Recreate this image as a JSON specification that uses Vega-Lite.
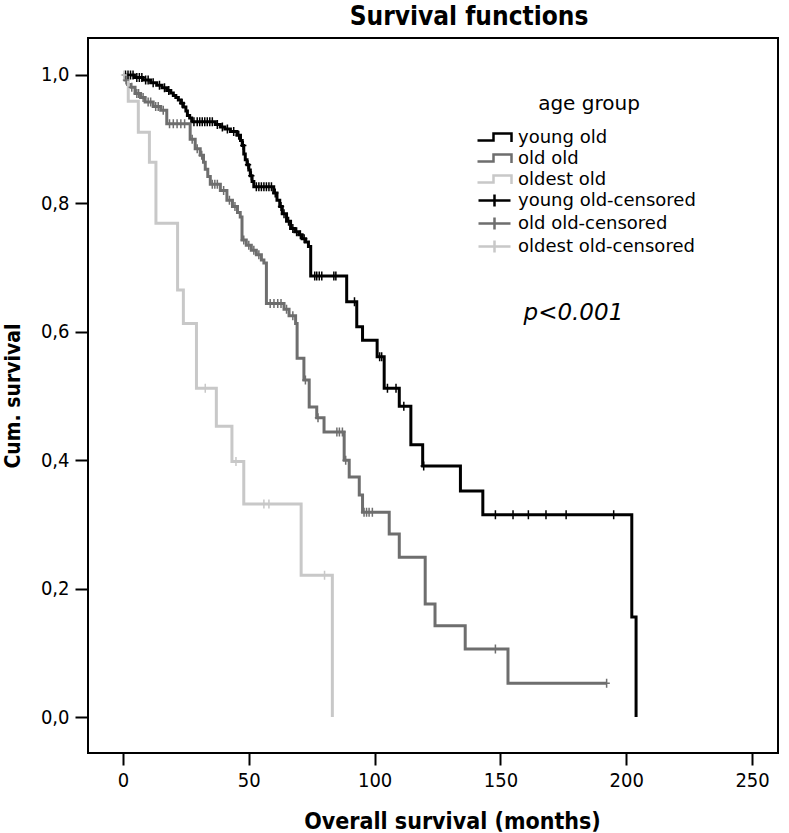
{
  "$schema": "https://vega.github.io/schema/vega-lite/v6.json",
  "width": 690,
  "height": 715,
  "autosize": {"type": "none"},
  "padding": {"left": 88, "top": 38, "right": 11, "bottom": 80},
  "background": "white",
  "config": {
    "view": {"stroke": "black", "strokeWidth": 2},
    "font": "DejaVu Sans Condensed"
  },
  "title": {"text": "Survival functions", "font": "DejaVu Sans Condensed", "fontSize": 26, "fontWeight": "bold", "color": "black", "anchor": "middle", "dx": 36, "offset": 8},
  "datasets": {
    "steps": [
      {"series": "young old", "month": 0, "surv": 1.0},
      {"series": "young old", "month": 4.5, "surv": 0.996},
      {"series": "young old", "month": 8, "surv": 0.992},
      {"series": "young old", "month": 11, "surv": 0.988},
      {"series": "young old", "month": 13.4, "surv": 0.984},
      {"series": "young old", "month": 15.5, "surv": 0.98},
      {"series": "young old", "month": 17.4, "surv": 0.976},
      {"series": "young old", "month": 19, "surv": 0.972},
      {"series": "young old", "month": 20, "surv": 0.968},
      {"series": "young old", "month": 21, "surv": 0.965},
      {"series": "young old", "month": 22, "surv": 0.961},
      {"series": "young old", "month": 23, "surv": 0.956},
      {"series": "young old", "month": 24, "surv": 0.95},
      {"series": "young old", "month": 25, "surv": 0.944},
      {"series": "young old", "month": 25.6, "surv": 0.937},
      {"series": "young old", "month": 26.5, "surv": 0.933},
      {"series": "young old", "month": 27.3, "surv": 0.927},
      {"series": "young old", "month": 36.7, "surv": 0.923},
      {"series": "young old", "month": 38.7, "surv": 0.919},
      {"series": "young old", "month": 40.5, "surv": 0.916},
      {"series": "young old", "month": 42.7, "surv": 0.912},
      {"series": "young old", "month": 45.3, "surv": 0.906},
      {"series": "young old", "month": 46.7, "surv": 0.898},
      {"series": "young old", "month": 47.4, "surv": 0.89},
      {"series": "young old", "month": 48, "surv": 0.877},
      {"series": "young old", "month": 48.6, "surv": 0.868},
      {"series": "young old", "month": 49.3, "surv": 0.86},
      {"series": "young old", "month": 50, "surv": 0.852},
      {"series": "young old", "month": 50.6, "surv": 0.843},
      {"series": "young old", "month": 51.3, "surv": 0.834},
      {"series": "young old", "month": 52, "surv": 0.826},
      {"series": "young old", "month": 59.9, "surv": 0.816},
      {"series": "young old", "month": 61.2, "surv": 0.805},
      {"series": "young old", "month": 62.3, "surv": 0.795},
      {"series": "young old", "month": 63.3, "surv": 0.784},
      {"series": "young old", "month": 65, "surv": 0.772},
      {"series": "young old", "month": 66.6, "surv": 0.761},
      {"series": "young old", "month": 68.3, "surv": 0.756},
      {"series": "young old", "month": 69.9, "surv": 0.751},
      {"series": "young old", "month": 71.2, "surv": 0.745},
      {"series": "young old", "month": 72.6, "surv": 0.74},
      {"series": "young old", "month": 73.7, "surv": 0.733},
      {"series": "young old", "month": 74.6, "surv": 0.687},
      {"series": "young old", "month": 88.9, "surv": 0.647},
      {"series": "young old", "month": 92.9, "surv": 0.608},
      {"series": "young old", "month": 95.2, "surv": 0.587},
      {"series": "young old", "month": 101, "surv": 0.561},
      {"series": "young old", "month": 103.8, "surv": 0.512},
      {"series": "young old", "month": 109.8, "surv": 0.484},
      {"series": "young old", "month": 114.4, "surv": 0.424},
      {"series": "young old", "month": 119.1, "surv": 0.391},
      {"series": "young old", "month": 134.1, "surv": 0.352},
      {"series": "young old", "month": 143, "surv": 0.315},
      {"series": "young old", "month": 202.2, "surv": 0.156},
      {"series": "young old", "month": 203.9, "surv": 0.0},
      {"series": "old old", "month": 0, "surv": 1.0},
      {"series": "old old", "month": 0.8, "surv": 0.992},
      {"series": "old old", "month": 1.8, "surv": 0.985},
      {"series": "old old", "month": 2.8, "surv": 0.981},
      {"series": "old old", "month": 4.8, "surv": 0.971},
      {"series": "old old", "month": 7, "surv": 0.965},
      {"series": "old old", "month": 8.8, "surv": 0.958},
      {"series": "old old", "month": 12, "surv": 0.951},
      {"series": "old old", "month": 15, "surv": 0.945},
      {"series": "old old", "month": 17.4, "surv": 0.924},
      {"series": "old old", "month": 26.7, "surv": 0.9},
      {"series": "old old", "month": 28.7, "surv": 0.885},
      {"series": "old old", "month": 30.7, "surv": 0.875},
      {"series": "old old", "month": 32, "surv": 0.864},
      {"series": "old old", "month": 32.7, "surv": 0.853},
      {"series": "old old", "month": 33.7, "surv": 0.842},
      {"series": "old old", "month": 34.7, "surv": 0.83},
      {"series": "old old", "month": 38.7, "surv": 0.82},
      {"series": "old old", "month": 41.3, "surv": 0.805},
      {"series": "old old", "month": 43.5, "surv": 0.795},
      {"series": "old old", "month": 45.5, "surv": 0.786},
      {"series": "old old", "month": 46.6, "surv": 0.779},
      {"series": "old old", "month": 47.3, "surv": 0.743},
      {"series": "old old", "month": 49, "surv": 0.735},
      {"series": "old old", "month": 51, "surv": 0.727},
      {"series": "old old", "month": 53, "surv": 0.72},
      {"series": "old old", "month": 55, "surv": 0.712},
      {"series": "old old", "month": 56, "surv": 0.707},
      {"series": "old old", "month": 57, "surv": 0.644},
      {"series": "old old", "month": 64, "surv": 0.635},
      {"series": "old old", "month": 66, "surv": 0.625},
      {"series": "old old", "month": 68.6, "surv": 0.613},
      {"series": "old old", "month": 69.2, "surv": 0.559},
      {"series": "old old", "month": 71.9, "surv": 0.525},
      {"series": "old old", "month": 74, "surv": 0.483},
      {"series": "old old", "month": 77, "surv": 0.466},
      {"series": "old old", "month": 79.9, "surv": 0.444},
      {"series": "old old", "month": 87.9, "surv": 0.4},
      {"series": "old old", "month": 89.9, "surv": 0.374},
      {"series": "old old", "month": 93.9, "surv": 0.346},
      {"series": "old old", "month": 95.2, "surv": 0.319},
      {"series": "old old", "month": 105.8, "surv": 0.285},
      {"series": "old old", "month": 109.8, "surv": 0.249},
      {"series": "old old", "month": 120.1, "surv": 0.176},
      {"series": "old old", "month": 124, "surv": 0.142},
      {"series": "old old", "month": 136, "surv": 0.106},
      {"series": "old old", "month": 153, "surv": 0.0525},
      {"series": "old old", "month": 192.2, "surv": 0.0525},
      {"series": "oldest old", "month": 0, "surv": 1.0},
      {"series": "oldest old", "month": 2.1, "surv": 0.959},
      {"series": "oldest old", "month": 6.1, "surv": 0.911},
      {"series": "oldest old", "month": 10.5, "surv": 0.864},
      {"series": "oldest old", "month": 13.1, "surv": 0.769},
      {"series": "oldest old", "month": 21.7, "surv": 0.665},
      {"series": "oldest old", "month": 24, "surv": 0.613},
      {"series": "oldest old", "month": 29.2, "surv": 0.512},
      {"series": "oldest old", "month": 37.1, "surv": 0.453},
      {"series": "oldest old", "month": 43.3, "surv": 0.398},
      {"series": "oldest old", "month": 48, "surv": 0.332},
      {"series": "oldest old", "month": 70.8, "surv": 0.221},
      {"series": "oldest old", "month": 83.2, "surv": 0.0}
    ],
    "censors": [
      {"series": "young old-censored", "month": 1, "surv": 1.0},
      {"series": "young old-censored", "month": 2, "surv": 1.0},
      {"series": "young old-censored", "month": 3, "surv": 1.0},
      {"series": "young old-censored", "month": 4, "surv": 1.0},
      {"series": "young old-censored", "month": 5.5, "surv": 0.996},
      {"series": "young old-censored", "month": 6.5, "surv": 0.996},
      {"series": "young old-censored", "month": 7.5, "surv": 0.996},
      {"series": "young old-censored", "month": 9, "surv": 0.992},
      {"series": "young old-censored", "month": 10, "surv": 0.992},
      {"series": "young old-censored", "month": 12, "surv": 0.988},
      {"series": "young old-censored", "month": 14.5, "surv": 0.984},
      {"series": "young old-censored", "month": 16.5, "surv": 0.98},
      {"series": "young old-censored", "month": 18.2, "surv": 0.976},
      {"series": "young old-censored", "month": 23.5, "surv": 0.956},
      {"series": "young old-censored", "month": 28.2, "surv": 0.927},
      {"series": "young old-censored", "month": 29.5, "surv": 0.927},
      {"series": "young old-censored", "month": 30.5, "surv": 0.927},
      {"series": "young old-censored", "month": 31.5, "surv": 0.927},
      {"series": "young old-censored", "month": 32.5, "surv": 0.927},
      {"series": "young old-censored", "month": 33.5, "surv": 0.927},
      {"series": "young old-censored", "month": 34.5, "surv": 0.927},
      {"series": "young old-censored", "month": 35.5, "surv": 0.927},
      {"series": "young old-censored", "month": 37.5, "surv": 0.923},
      {"series": "young old-censored", "month": 39.5, "surv": 0.919},
      {"series": "young old-censored", "month": 41.5, "surv": 0.916},
      {"series": "young old-censored", "month": 44, "surv": 0.912},
      {"series": "young old-censored", "month": 46, "surv": 0.906},
      {"series": "young old-censored", "month": 47.8, "surv": 0.89},
      {"series": "young old-censored", "month": 49.7, "surv": 0.86},
      {"series": "young old-censored", "month": 51, "surv": 0.843},
      {"series": "young old-censored", "month": 53, "surv": 0.826},
      {"series": "young old-censored", "month": 54, "surv": 0.826},
      {"series": "young old-censored", "month": 55, "surv": 0.826},
      {"series": "young old-censored", "month": 56, "surv": 0.826},
      {"series": "young old-censored", "month": 57, "surv": 0.826},
      {"series": "young old-censored", "month": 58, "surv": 0.826},
      {"series": "young old-censored", "month": 59, "surv": 0.826},
      {"series": "young old-censored", "month": 60.5, "surv": 0.816},
      {"series": "young old-censored", "month": 62.8, "surv": 0.795},
      {"series": "young old-censored", "month": 64, "surv": 0.784},
      {"series": "young old-censored", "month": 65.8, "surv": 0.772},
      {"series": "young old-censored", "month": 67.5, "surv": 0.761},
      {"series": "young old-censored", "month": 69, "surv": 0.756},
      {"series": "young old-censored", "month": 70.5, "surv": 0.751},
      {"series": "young old-censored", "month": 72, "surv": 0.745},
      {"series": "young old-censored", "month": 76.2, "surv": 0.687},
      {"series": "young old-censored", "month": 77, "surv": 0.687},
      {"series": "young old-censored", "month": 78, "surv": 0.687},
      {"series": "young old-censored", "month": 79, "surv": 0.687},
      {"series": "young old-censored", "month": 83.8, "surv": 0.687},
      {"series": "young old-censored", "month": 84.6, "surv": 0.687},
      {"series": "young old-censored", "month": 92, "surv": 0.647},
      {"series": "young old-censored", "month": 102, "surv": 0.561},
      {"series": "young old-censored", "month": 102.8, "surv": 0.561},
      {"series": "young old-censored", "month": 105.1, "surv": 0.512},
      {"series": "young old-censored", "month": 108.5, "surv": 0.512},
      {"series": "young old-censored", "month": 111.6, "surv": 0.484},
      {"series": "young old-censored", "month": 119.5, "surv": 0.391},
      {"series": "young old-censored", "month": 148, "surv": 0.315},
      {"series": "young old-censored", "month": 155, "surv": 0.315},
      {"series": "young old-censored", "month": 161.1, "surv": 0.315},
      {"series": "young old-censored", "month": 168.1, "surv": 0.315},
      {"series": "young old-censored", "month": 176.1, "surv": 0.315},
      {"series": "young old-censored", "month": 195, "surv": 0.315},
      {"series": "old old-censored", "month": 1.2, "surv": 0.992},
      {"series": "old old-censored", "month": 3.5, "surv": 0.981},
      {"series": "old old-censored", "month": 5.5, "surv": 0.971},
      {"series": "old old-censored", "month": 6.2, "surv": 0.971},
      {"series": "old old-censored", "month": 8, "surv": 0.965},
      {"series": "old old-censored", "month": 10, "surv": 0.958},
      {"series": "old old-censored", "month": 11, "surv": 0.958},
      {"series": "old old-censored", "month": 13, "surv": 0.951},
      {"series": "old old-censored", "month": 14, "surv": 0.951},
      {"series": "old old-censored", "month": 16, "surv": 0.945},
      {"series": "old old-censored", "month": 18.5, "surv": 0.924},
      {"series": "old old-censored", "month": 20, "surv": 0.924},
      {"series": "old old-censored", "month": 21.5, "surv": 0.924},
      {"series": "old old-censored", "month": 23, "surv": 0.924},
      {"series": "old old-censored", "month": 24.5, "surv": 0.924},
      {"series": "old old-censored", "month": 27.5, "surv": 0.9},
      {"series": "old old-censored", "month": 29.5, "surv": 0.885},
      {"series": "old old-censored", "month": 31.3, "surv": 0.875},
      {"series": "old old-censored", "month": 35.5, "surv": 0.83},
      {"series": "old old-censored", "month": 36.5, "surv": 0.83},
      {"series": "old old-censored", "month": 37.5, "surv": 0.83},
      {"series": "old old-censored", "month": 40, "surv": 0.82},
      {"series": "old old-censored", "month": 42.3, "surv": 0.805},
      {"series": "old old-censored", "month": 44.5, "surv": 0.795},
      {"series": "old old-censored", "month": 48, "surv": 0.743},
      {"series": "old old-censored", "month": 50, "surv": 0.735},
      {"series": "old old-censored", "month": 52, "surv": 0.727},
      {"series": "old old-censored", "month": 54, "surv": 0.72},
      {"series": "old old-censored", "month": 58.5, "surv": 0.644},
      {"series": "old old-censored", "month": 60, "surv": 0.644},
      {"series": "old old-censored", "month": 61.5, "surv": 0.644},
      {"series": "old old-censored", "month": 62.8, "surv": 0.644},
      {"series": "old old-censored", "month": 65, "surv": 0.635},
      {"series": "old old-censored", "month": 67.5, "surv": 0.625},
      {"series": "old old-censored", "month": 72.5, "surv": 0.525},
      {"series": "old old-censored", "month": 77.5, "surv": 0.466},
      {"series": "old old-censored", "month": 85, "surv": 0.444},
      {"series": "old old-censored", "month": 86, "surv": 0.444},
      {"series": "old old-censored", "month": 87.2, "surv": 0.444},
      {"series": "old old-censored", "month": 88.5, "surv": 0.4},
      {"series": "old old-censored", "month": 95.8, "surv": 0.319},
      {"series": "old old-censored", "month": 96.8, "surv": 0.319},
      {"series": "old old-censored", "month": 97.8, "surv": 0.319},
      {"series": "old old-censored", "month": 99.1, "surv": 0.319},
      {"series": "old old-censored", "month": 148, "surv": 0.106},
      {"series": "old old-censored", "month": 192.2, "surv": 0.0525},
      {"series": "oldest old-censored", "month": 0.4, "surv": 1.0},
      {"series": "oldest old-censored", "month": 32.7, "surv": 0.512},
      {"series": "oldest old-censored", "month": 44.9, "surv": 0.398},
      {"series": "oldest old-censored", "month": 56, "surv": 0.332},
      {"series": "oldest old-censored", "month": 58, "surv": 0.332},
      {"series": "oldest old-censored", "month": 80.1, "surv": 0.221}
    ]
  },
  "encoding": {
    "x": {
      "field": "month", "type": "quantitative",
      "scale": {"domain": [-13.9, 260.3], "nice": false, "zero": false},
      "axis": {
        "values": [0, 50, 100, 150, 200, 250],
        "title": "Overall survival (months)",
        "domain": false, "grid": false,
        "tickSize": 12, "tickWidth": 2, "tickColor": "black",
        "labelFont": "DejaVu Sans Condensed", "labelFontSize": 20, "labelColor": "black", "labelPadding": 5,
        "titleFont": "DejaVu Sans Condensed", "titleFontSize": 23, "titleFontWeight": "bold", "titleColor": "black", "titlePadding": 20,
        "titleX": 364
      }
    },
    "y": {
      "field": "surv", "type": "quantitative",
      "scale": {"domain": [-0.056, 1.0576], "nice": false, "zero": false},
      "axis": {
        "values": [0, 0.2, 0.4, 0.6, 0.8, 1.0],
        "labelExpr": "replace(format(datum.value, '.1f'), '.', ',')",
        "title": "Cum. survival",
        "domain": false, "grid": false,
        "tickSize": 13, "tickWidth": 2, "tickColor": "black",
        "labelFont": "DejaVu Sans Condensed", "labelFontSize": 20, "labelColor": "black", "labelPadding": 6,
        "titleFont": "DejaVu Sans Condensed", "titleFontSize": 21, "titleFontWeight": "bold", "titleColor": "black", "titlePadding": 17
      }
    }
  },
  "layer": [
    {
      "data": {"name": "steps"},
      "mark": {"type": "line", "interpolate": "step-after", "strokeWidth": 3},
      "encoding": {
        "color": {
          "field": "series", "type": "nominal",
          "scale": {
            "domain": ["young old", "old old", "oldest old", "young old-censored", "old old-censored", "oldest old-censored"],
            "range": ["#000000", "#6e6e6e", "#c8c8c8", "#000000", "#6e6e6e", "#c8c8c8"]
          }
        }
      }
    },
    {
      "data": {"name": "censors"},
      "mark": {"type": "point", "shape": "M0,-1V1M-0.7,0H0.7", "filled": false, "size": 81, "strokeWidth": 1.5, "opacity": 1},
      "encoding": {
        "color": {"field": "series", "type": "nominal"}
      }
    },
    {
      "data": {"name": "censors"},
      "mark": {"type": "point", "filled": false, "opacity": 0},
      "encoding": {
        "color": {
          "field": "series", "type": "nominal",
          "legend": {
            "title": "age group",
            "orient": "none", "legendX": 395, "legendY": 56,
            "titleFont": "DejaVu Sans", "titleFontSize": 20, "titleFontWeight": "normal", "titleColor": "black",
            "titleAnchor": "middle", "titlePadding": 12,
            "labelFont": "DejaVu Sans", "labelFontSize": 18, "labelColor": "black", "labelOffset": 12, "labelLimit": 300,
            "symbolSize": 400, "symbolOpacity": 1, "symbolFillColor": "transparent", "symbolStrokeWidth": 2.5, "rowPadding": -2
          }
        },
        "shape": {
          "field": "series", "type": "nominal",
          "scale": {
            "domain": ["young old", "old old", "oldest old", "young old-censored", "old old-censored", "oldest old-censored"],
            "range": ["M-1.7,0.3H-0.1V-0.4H1.7V0.45", "M-1.7,0.3H-0.1V-0.4H1.7V0.45", "M-1.7,0.3H-0.1V-0.4H1.7V0.45", "M-1.6,0H1.6M0,-0.6V0.6", "M-1.6,0H1.6M0,-0.6V0.6", "M-1.6,0H1.6M0,-0.6V0.6"]
          }
        }
      }
    },
    {
      "data": {"values": [{"label": "p<0.001", "month": 179, "surv": 0.629}]},
      "mark": {"type": "text", "font": "DejaVu Sans", "fontStyle": "italic", "fontSize": 23, "color": "black", "align": "center", "baseline": "middle"},
      "encoding": {
        "text": {"field": "label", "type": "nominal"}
      }
    }
  ]
}
